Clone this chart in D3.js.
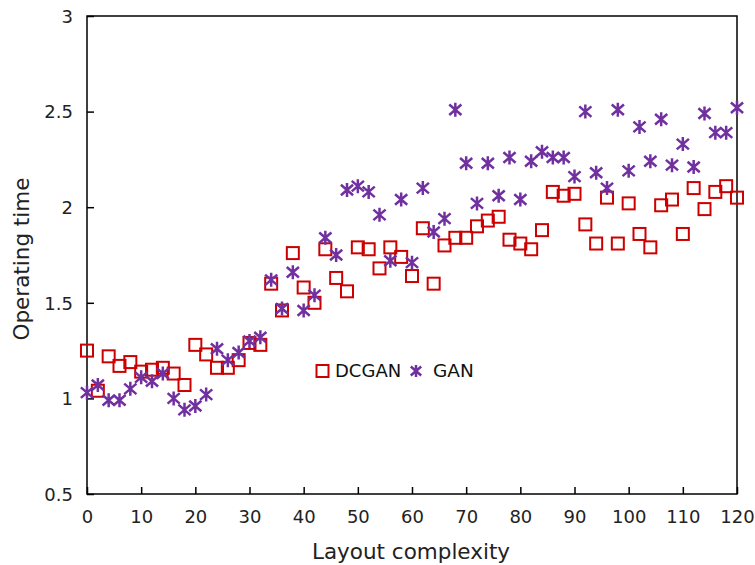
<!DOCTYPE html>
<html><head><meta charset="utf-8">
<script src="https://cdn.jsdelivr.net/npm/d3@7"></script>
<style>body{margin:0;background:#fff}svg{display:block}text{font-family:"DejaVu Sans",Verdana,sans-serif}</style>
</head><body>
<svg id="c" width="755" height="565"></svg>
<script>
const xValues = d3.range(0, 121, 2);
const dcgan = [1.25,1.04,1.22,1.17,1.19,1.14,1.15,1.16,1.13,1.07,1.28,1.23,1.16,1.16,1.20,1.29,1.28,1.60,1.46,1.76,1.58,1.50,1.78,1.63,1.56,1.79,1.78,1.68,1.79,1.74,1.64,1.89,1.60,1.80,1.84,1.84,1.90,1.93,1.95,1.83,1.81,1.78,1.88,2.08,2.06,2.07,1.91,1.81,2.05,1.81,2.02,1.86,1.79,2.01,2.04,1.86,2.10,1.99,2.08,2.11,2.05];
const gan = [1.03,1.07,0.99,0.99,1.05,1.11,1.09,1.13,1.00,0.94,0.96,1.02,1.26,1.20,1.24,1.30,1.32,1.62,1.47,1.66,1.46,1.54,1.84,1.75,2.09,2.11,2.08,1.96,1.72,2.04,1.71,2.10,1.87,1.94,2.51,2.23,2.02,2.23,2.06,2.26,2.04,2.24,2.29,2.26,2.26,2.16,2.50,2.18,2.10,2.51,2.19,2.42,2.24,2.46,2.22,2.33,2.21,2.49,2.39,2.39,2.52];
const xTicks = d3.range(0, 121, 10);
const yTicks = [0.5,1,1.5,2,2.5,3];
const seriesNames = ["DCGAN","GAN"];
const colors = ["#cc0000","#7030a0"];

const svg = d3.select("#c");
const L=87,R=737,T=16,B=494;
const x = d3.scaleLinear().domain([0,120]).range([L,R]);
const y = d3.scaleLinear().domain([0.5,3]).range([B,T]);

svg.append("rect").attr("x",L).attr("y",T).attr("width",R-L).attr("height",B-T)
  .attr("fill","none").attr("stroke","#000").attr("stroke-width",1.5);

const xa = svg.append("g").attr("transform",`translate(0,${B})`)
  .call(d3.axisBottom(x).tickValues(xTicks).tickSize(-7).tickPadding(16).tickFormat(d3.format("d")));
const ya = svg.append("g").attr("transform",`translate(${L},0)`)
  .call(d3.axisLeft(y).tickValues(yTicks).tickSize(-7).tickPadding(14).tickFormat(d=>String(d)));
[xa,ya].forEach(a=>{
  a.select(".domain").remove();
  a.selectAll("line").attr("stroke","#000").attr("stroke-width",1.5);
  a.selectAll("text").attr("font-size",18).attr("fill","#222").style("font-family",'"DejaVu Sans",Verdana,sans-serif');
});
ya.selectAll("text").attr("dy","0.35em");

svg.append("text").attr("x",411).attr("y",559).attr("text-anchor","middle")
  .attr("font-size",21.5).attr("fill","#222").text("Layout complexity");
svg.append("text").attr("transform",`translate(29,259) rotate(-90)`).attr("text-anchor","middle")
  .attr("font-size",21.5).attr("fill","#222").text("Operating time");

const sq = 12;
function drawSquare(g, cx, cy){
  g.append("rect").attr("x",cx-sq/2).attr("y",cy-sq/2).attr("width",sq).attr("height",sq)
   .attr("fill","none").attr("stroke",colors[0]).attr("stroke-width",2);
}
function drawStar(g, cx, cy, r){
  const dx=r*0.87, dy=r*0.75;
  const p = `M${cx},${cy-r}L${cx},${cy+r}M${cx-dx},${cy-dy}L${cx+dx},${cy+dy}M${cx-dx},${cy+dy}L${cx+dx},${cy-dy}`;
  g.append("path").attr("d",p).attr("stroke",colors[1]).attr("stroke-width",2.5).attr("fill","none");
}
const gs = svg.append("g");
xValues.forEach((xv,i)=>drawSquare(gs, x(xv), y(dcgan[i])));
const gg = svg.append("g");
xValues.forEach((xv,i)=>drawStar(gg, x(xv), y(gan[i]), 7));

const lg = svg.append("g");
drawSquare(lg, 322.5, 371);
lg.append("text").attr("x",335).attr("y",371).attr("dy","0.35em").attr("font-size",18).attr("fill","#111").text(seriesNames[0]);
drawStar(lg, 416, 371, 6);
lg.append("text").attr("x",433).attr("y",371).attr("dy","0.35em").attr("font-size",18.5).attr("fill","#111").text(seriesNames[1]);
</script>
</body></html>
